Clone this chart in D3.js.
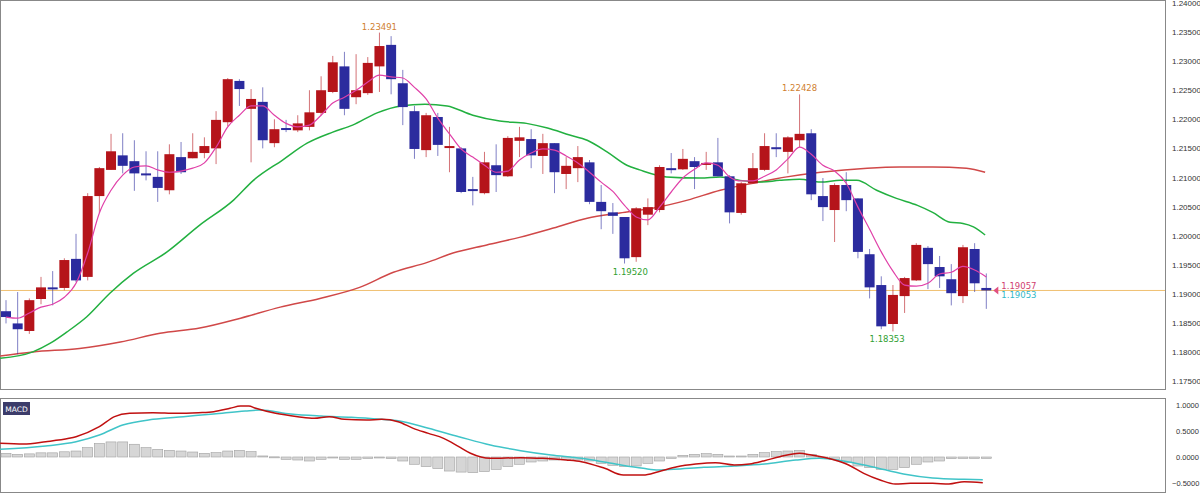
<!DOCTYPE html>
<html><head><meta charset="utf-8">
<script src="https://cdn.jsdelivr.net/npm/d3@7"></script>
<style>body{margin:0;background:#fff}svg{display:block;font-family:"DejaVu Sans",sans-serif}</style>
</head><body><svg id="c" width="1200" height="494"></svg>
<script>
const opens=[1.1870,1.1849,1.1836,1.1891,1.1911,1.1910,1.1960,1.1929,1.2068,1.2113,1.2138,1.2128,1.2107,1.2101,1.2078,1.2135,1.2133,1.2142,1.2150,1.2195,1.2266,1.2218,1.2230,1.2159,1.2185,1.2181,1.2187,1.2211,1.2247,1.2291,1.2238,1.2245,1.2291,1.2328,1.2262,1.2214,1.2147,1.2204,1.2152,1.2150,1.2080,1.2073,1.2121,1.2102,1.2163,1.2166,1.2137,1.2159,1.2106,1.2116,1.2126,1.2058,1.2040,1.2032,1.1963,1.2036,1.2044,1.2116,1.2114,1.2128,1.2123,1.2126,1.2102,1.2039,1.2090,1.2113,1.2152,1.2144,1.2164,1.2176,1.2068,1.2044,1.2087,1.2064,1.1968,1.1915,1.1848,1.1896,1.1923,1.1979,1.1946,1.1925,1.1896,1.1977,1.1910];
const highs=[1.1889,1.1903,1.1892,1.1929,1.1939,1.1961,1.2003,1.2073,1.2118,1.2175,1.2176,1.2164,1.2145,1.2145,1.2157,1.2161,1.2176,1.2169,1.2214,1.2271,1.2269,1.2252,1.2255,1.2200,1.2199,1.2207,1.2250,1.2274,1.2309,1.2316,1.2312,1.2307,1.23491,1.2343,1.2285,1.2223,1.2211,1.2211,1.2187,1.2152,1.2101,1.2144,1.2157,1.2171,1.2187,1.2183,1.2175,1.2159,1.2135,1.2154,1.2130,1.2087,1.2056,1.2032,1.2049,1.2064,1.2121,1.2142,1.2149,1.2135,1.2144,1.2168,1.2104,1.2092,1.2142,1.2176,1.2176,1.2171,1.22428,1.2183,1.2099,1.2090,1.2109,1.2064,1.1977,1.1930,1.1915,1.1929,1.1987,1.1982,1.1965,1.1951,1.1984,1.1987,1.1935];
const lows=[1.1849,1.1796,1.1831,1.1882,1.1880,1.1906,1.1920,1.1923,1.2039,1.2113,1.2107,1.2077,1.2095,1.2058,1.2071,1.2106,1.2133,1.2133,1.2123,1.2188,1.2223,1.2126,1.2150,1.2152,1.2178,1.2178,1.2181,1.2207,1.2245,1.2207,1.2226,1.2242,1.2247,1.2243,1.2190,1.2132,1.2135,1.2137,1.2109,1.2073,1.2052,1.2071,1.2075,1.2101,1.2135,1.2116,1.2106,1.2073,1.2080,1.2092,1.2054,1.2011,1.2003,1.1952,1.1955,1.2018,1.2040,1.2107,1.2113,1.2080,1.2113,1.2102,1.2021,1.2036,1.2090,1.2111,1.2135,1.2107,1.2152,1.2061,1.2025,1.1989,1.2042,1.1961,1.1892,1.1839,1.18353,1.1867,1.1922,1.1908,1.1910,1.1880,1.1884,1.1903,1.1874];
const closes=[1.1860,1.1839,1.1889,1.1911,1.1910,1.1958,1.1923,1.2068,1.2116,1.2145,1.2120,1.2107,1.2104,1.2082,1.2140,1.2109,1.2144,1.2154,1.2199,1.2269,1.2252,1.2235,1.2164,1.2183,1.2183,1.2193,1.2212,1.2250,1.2298,1.2218,1.2250,1.2297,1.2326,1.2269,1.2221,1.2149,1.2207,1.2156,1.2154,1.2075,1.2077,1.2126,1.2104,1.2168,1.2169,1.2138,1.2159,1.2109,1.2120,1.2135,1.2058,1.2042,1.2034,1.1961,1.2047,1.2049,1.2118,1.2114,1.2132,1.2118,1.2125,1.2102,1.2040,1.2090,1.2116,1.2154,1.2149,1.2169,1.2175,1.2071,1.2049,1.2087,1.2061,1.1972,1.1911,1.1844,1.1898,1.1927,1.1984,1.1951,1.1930,1.1901,1.1980,1.1918,1.19057];
const maFast=[1.1860,1.1858,1.1867,1.1877,1.1882,1.1894,1.1918,1.1970,1.2039,1.2078,1.2104,1.2118,1.2120,1.2113,1.2109,1.2111,1.2116,1.2125,1.2152,1.2187,1.2207,1.2223,1.2223,1.2207,1.2193,1.2187,1.2190,1.2207,1.2228,1.2238,1.2250,1.2264,1.2276,1.2273,1.2271,1.2255,1.2235,1.2202,1.2175,1.2149,1.2135,1.2121,1.2109,1.2111,1.2130,1.2142,1.2149,1.2147,1.2137,1.2125,1.2109,1.2092,1.2076,1.2052,1.2032,1.2027,1.2049,1.2075,1.2099,1.2114,1.2125,1.2121,1.2101,1.2094,1.2094,1.2102,1.2113,1.2132,1.2152,1.2140,1.2121,1.2111,1.2090,1.2049,1.2011,1.1972,1.1939,1.1915,1.1913,1.1918,1.1934,1.1937,1.1947,1.1941,1.1929];
const maMidIdx=[-0.5,2.3,3.8,5.2,6.9,8.9,10.9,13.8,16.6,19.5,21.2,23.7,25.8,28.0,29.7,31.8,33.8,35.9,37.8,40.0,42.3,44.6,46.4,48.3,49.8,51.5,53.2,54.3,56.6,59.5,61.2,62.9,64.6,66.3,68.0,69.8,71.5,72.9,74.6,76.3,78.1,79.4,80.9,82.0,82.9,83.9];
const maMid=[1.1789,1.1800,1.1815,1.1834,1.1860,1.1901,1.1935,1.1972,1.2018,1.2061,1.2095,1.2130,1.2159,1.2178,1.2190,1.2211,1.2223,1.2226,1.2223,1.2207,1.2197,1.2193,1.2185,1.2173,1.2164,1.2144,1.2121,1.2113,1.2101,1.2099,1.2101,1.2095,1.2092,1.2095,1.2097,1.2092,1.2095,1.2095,1.2078,1.2064,1.2052,1.2040,1.2023,1.2021,1.2015,1.2001];
const maSlowIdx=[-0.5,2.3,6.3,9.8,13.2,16.6,20.1,23.5,26.9,30.3,33.2,36.1,38.3,41.2,44.0,46.9,49.8,52.6,55.4,58.4,61.2,64.0,66.9,69.8,73.8,76.6,79.4,82.3,83.9];
const maSlow=[1.1793,1.1800,1.1806,1.1817,1.1832,1.1841,1.1858,1.1877,1.1892,1.1911,1.1937,1.1954,1.1970,1.1984,1.1997,1.2013,1.2030,1.2039,1.2047,1.2061,1.2078,1.2090,1.2101,1.2109,1.2116,1.2118,1.2118,1.2116,1.2109];
const macdIdx=[-0.5,1.5,3.4,5.4,6.0,8.0,9.3,10.6,12.6,14.6,16.5,17.8,19.2,20.1,20.8,21.4,23.1,25.0,26.4,27.7,29.0,30.9,32.2,33.6,34.9,36.2,37.5,38.8,39.8,41.5,44.1,46.0,48.0,49.3,51.3,52.9,54.6,55.9,57.5,59.1,60.8,62.4,63.7,65.0,66.3,68.0,69.0,71.0,72.2,73.5,74.9,76.2,77.5,79.4,80.8,82.1,83.7];
const macdVal=[0.263,0.25,0.294,0.359,0.391,0.583,0.776,0.84,0.853,0.84,0.853,0.872,0.936,0.981,0.981,0.936,0.84,0.776,0.744,0.776,0.724,0.712,0.724,0.679,0.551,0.455,0.359,0.199,0.071,-0.026,-0.013,-0.026,-0.058,-0.09,-0.218,-0.346,-0.346,-0.282,-0.186,-0.135,-0.109,-0.154,-0.135,-0.071,0.006,0.071,0.038,-0.058,-0.154,-0.314,-0.442,-0.519,-0.506,-0.506,-0.519,-0.474,-0.494];
const sigIdx=[-0.5,3.4,6.0,8.0,10.0,12.6,15.2,17.8,20.5,21.8,24.4,27.0,29.6,32.2,33.6,36.2,38.8,41.5,44.1,46.7,49.3,51.9,54.6,55.9,57.2,59.8,62.4,65.0,67.7,69.7,71.6,74.2,76.9,79.4,82.1,83.7];
const sigVal=[0.147,0.212,0.294,0.423,0.615,0.724,0.776,0.827,0.885,0.904,0.827,0.788,0.763,0.724,0.699,0.551,0.391,0.231,0.122,0.038,-0.026,-0.122,-0.218,-0.25,-0.237,-0.199,-0.173,-0.135,-0.058,-0.026,-0.071,-0.186,-0.327,-0.404,-0.429,-0.436];
const hist=[0.07,0.05,0.06,0.08,0.08,0.1,0.115,0.18,0.26,0.29,0.29,0.245,0.18,0.147,0.128,0.115,0.096,0.07,0.083,0.115,0.128,0.103,0.02,0.003,-0.045,-0.058,-0.077,-0.045,-0.013,-0.045,-0.045,-0.026,-0.004,-0.03,-0.077,-0.14,-0.186,-0.224,-0.27,-0.29,-0.30,-0.28,-0.237,-0.186,-0.14,-0.096,-0.077,-0.058,-0.045,-0.058,-0.077,-0.122,-0.16,-0.186,-0.173,-0.122,-0.077,-0.026,0.032,0.051,0.064,0.051,0.019,0.019,0.051,0.083,0.103,0.115,0.128,0.051,-0.013,-0.045,-0.109,-0.173,-0.205,-0.237,-0.237,-0.205,-0.14,-0.096,-0.077,-0.032,-0.026,-0.026,-0.026];
const priceTicks=[1.24,1.235,1.23,1.225,1.22,1.215,1.21,1.205,1.20,1.195,1.19,1.185,1.18,1.175];
const macdTicks=[1.0,0.5,0.0,-0.5];
const lastPrice=1.19057, bidPrice=1.19053;
const extremes=[{i:32,v:1.23491,hi:true},{i:68,v:1.22428,hi:true},{i:53.5,v:1.19520,hi:false},{i:75.5,v:1.18353,hi:false}];

const svg=d3.select("#c");
const x=d3.scaleLinear().domain([0,84]).range([6,986.3]);
const y=d3.scaleLinear().domain([1.175,1.24]).range([381,3]);
const ym=d3.scaleLinear().domain([-0.5,1.0]).range([483,405]);
svg.append("rect").attr("x",0.5).attr("y",0.5).attr("width",1165).attr("height",389).attr("fill","#fff").attr("stroke","#888");
svg.append("rect").attr("x",0.5).attr("y",398.5).attr("width",1165).attr("height",94).attr("fill","#fff").attr("stroke","#888");
const fmt=d3.format(".5f");
const ax=svg.append("g").attr("transform","translate(1172,0)").call(d3.axisRight(y).tickValues(priceTicks).tickFormat(fmt).tickSize(0));
ax.select(".domain").remove();
ax.selectAll("text").attr("font-size",8).attr("fill","#333").attr("x",0);
const axm=svg.append("g").attr("transform","translate(1172,0)").call(d3.axisRight(ym).tickValues(macdTicks).tickFormat(d3.format(".4f")).tickSize(0));
axm.select(".domain").remove();
axm.selectAll("text").attr("font-size",7.5).attr("fill","#333").attr("x",d=>d<0?0:4);
svg.append("line").attr("x1",1).attr("x2",1165).attr("y1",y(lastPrice)).attr("y2",y(lastPrice)).attr("stroke","#f0c070").attr("stroke-width",1);
const line=d3.line().x(d=>x(d[0])).y(d=>y(d[1])).curve(d3.curveMonotoneX);
svg.append("path").attr("d",line(maSlowIdx.map((v,i)=>[v,maSlow[i]]))).attr("fill","none").attr("stroke","#d04848").attr("stroke-width",1.5);
svg.append("path").attr("d",line(maMidIdx.map((v,i)=>[v,maMid[i]]))).attr("fill","none").attr("stroke","#22b040").attr("stroke-width",1.5);
const up="#b5141a", dn="#2b2b9e";
const cg=svg.append("g");
closes.forEach((c,i)=>{
  const o=opens[i],col=c>=o?up:dn;
  cg.append("line").attr("x1",x(i)).attr("x2",x(i)).attr("y1",y(highs[i])).attr("y2",y(lows[i])).attr("stroke",col).attr("stroke-opacity",0.6);
  const t=y(Math.max(o,c)),b=y(Math.min(o,c));
  cg.append("rect").attr("x",x(i)-5).attr("width",10).attr("y",t).attr("height",Math.max(2,b-t)).attr("fill",col);
});
svg.append("path").attr("d",line(maFast.map((v,i)=>[i,v]))).attr("fill","none").attr("stroke","#e040a8").attr("stroke-width",1.2);
extremes.forEach(e=>{
  svg.append("text").attr("x",x(e.i)).attr("y",e.hi?y(e.v)-3:y(e.v)+11).attr("text-anchor","middle").attr("font-size",8.5)
   .attr("fill",e.hi?"#d08030":"#30a030").text(fmt(e.v));
});
const lx=x(84)+12;
svg.append("path").attr("d",`M${lx},${y(lastPrice)-4}L${lx-5},${y(lastPrice)}L${lx},${y(lastPrice)+4}Z`).attr("fill","#e05080");
svg.append("text").attr("x",lx+3).attr("y",y(lastPrice)-1).attr("font-size",8.5).attr("fill","#d04070").text(fmt(lastPrice));
svg.append("text").attr("x",lx+3).attr("y",y(lastPrice)+8).attr("font-size",8.5).attr("fill","#30b8c8").text(fmt(bidPrice));
const hg=svg.append("g");
hist.forEach((h,i)=>{
  const a=ym(Math.max(0,h)),b=ym(Math.min(0,h));
  hg.append("rect").attr("x",x(i)-5).attr("width",10).attr("y",a).attr("height",Math.max(1,b-a)).attr("fill","#d6d6d6").attr("stroke","#a0a0a0").attr("stroke-width",0.6);
});
const ml=d3.line().x(d=>x(d[0])).y(d=>ym(d[1])).curve(d3.curveMonotoneX);
svg.append("path").attr("d",ml(sigIdx.map((v,i)=>[v,sigVal[i]]))).attr("fill","none").attr("stroke","#40c4c8").attr("stroke-width",1.5);
svg.append("path").attr("d",ml(macdIdx.map((v,i)=>[v,macdVal[i]]))).attr("fill","none").attr("stroke","#c01010").attr("stroke-width",1.5);
svg.append("rect").attr("x",3).attr("y",402).attr("width",27).attr("height",13).attr("fill","#3c3c6a");
svg.append("text").attr("x",16.5).attr("y",411.5).attr("text-anchor","middle").attr("font-size",7.5).attr("fill","#fff").text("MACD");
</script></body></html>
